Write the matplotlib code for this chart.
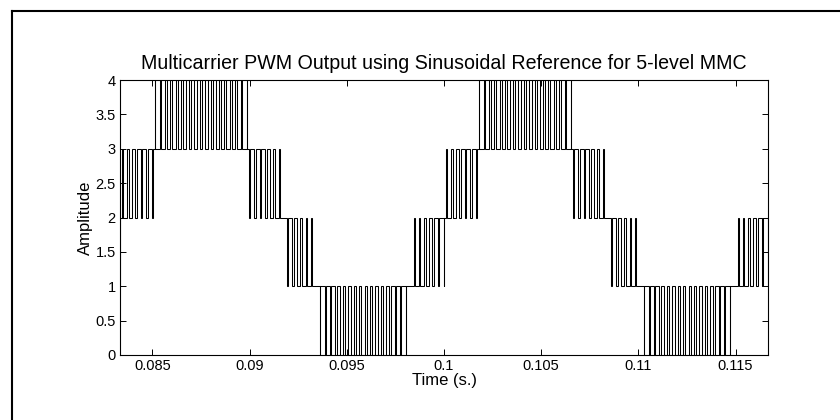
import numpy as np
import matplotlib
matplotlib.use("Agg")
import matplotlib.pyplot as plt
from matplotlib.lines import Line2D

# ---- values ----
t_window = [1 / 12, 7 / 60]          # visible time range (s)
f_ref = 60.0                          # sinusoidal reference frequency (Hz)
ref_offset = 2.0                      # reference centre level
ref_amplitude = 1.6                   # reference amplitude
carrier_freq = 3600.0                 # carrier frequency (Hz)
carrier_levels = [0, 1, 2, 3]         # lower edges of level-shifted carriers
x_ticks = [0.085, 0.09, 0.095, 0.1, 0.105, 0.11, 0.115]
x_tick_labels = ["0.085", "0.09", "0.095", "0.1", "0.105", "0.11", "0.115"]
y_ticks = [0, 0.5, 1, 1.5, 2, 2.5, 3, 3.5, 4]
y_tick_labels = ["0", "0.5", "1", "1.5", "2", "2.5", "3", "3.5", "4"]
title = "Multicarrier PWM Output using Sinusoidal Reference for 5-level MMC"

# ---- multicarrier comparison ----
t = np.linspace(t_window[0], t_window[1], 400001)
ref = ref_offset + ref_amplitude * np.sin(2 * np.pi * f_ref * t)
tri = np.abs(((t * carrier_freq) % 1.0) * 2.0 - 1.0)
out = np.zeros_like(t)
for lv in carrier_levels:
    out += (ref > lv + tri).astype(float)

chg = np.nonzero(np.diff(out))[0] + 1
xs = [t[0]]
ys = [out[0]]
for i in chg:
    xs += [t[i], t[i]]
    ys += [out[i - 1], out[i]]
xs.append(t[-1])
ys.append(out[-1])

plt.rcParams['font.family'] = ['Liberation Sans', 'DejaVu Sans']
fig = plt.figure(figsize=(8.4, 4.2), dpi=100)
ax = fig.add_axes([120 / 840, 65 / 420, 648 / 840, 275 / 420])
ax.plot(xs, ys, color='black', lw=0.75, solid_joinstyle='miter')
ax.set_xlim(t_window)
ax.set_ylim(0, 4)
ax.set_xticks(x_ticks)
ax.set_xticklabels(x_tick_labels)
ax.set_yticks(y_ticks)
ax.set_yticklabels(y_tick_labels)
ax.tick_params(direction='in', length=4, width=0.7, top=True, right=True,
               labelsize=10.5, pad=3)
for s in ax.spines.values():
    s.set_linewidth(0.8)
ax.set_title(title, fontsize=14.1, pad=8)
ax.set_xlabel("Time (s.)", fontsize=12, labelpad=0)
ax.set_ylabel("Amplitude", fontsize=12, labelpad=2)

# figure frame (left and top edges)
fig.add_artist(Line2D([12 / 840, 12 / 840], [0, 1 - 11 / 420], transform=fig.transFigure,
                      color='black', lw=1.5))
fig.add_artist(Line2D([12 / 840, 1], [1 - 11 / 420, 1 - 11 / 420], transform=fig.transFigure,
                      color='black', lw=1.5))

fig.savefig("out.png", dpi=100)
